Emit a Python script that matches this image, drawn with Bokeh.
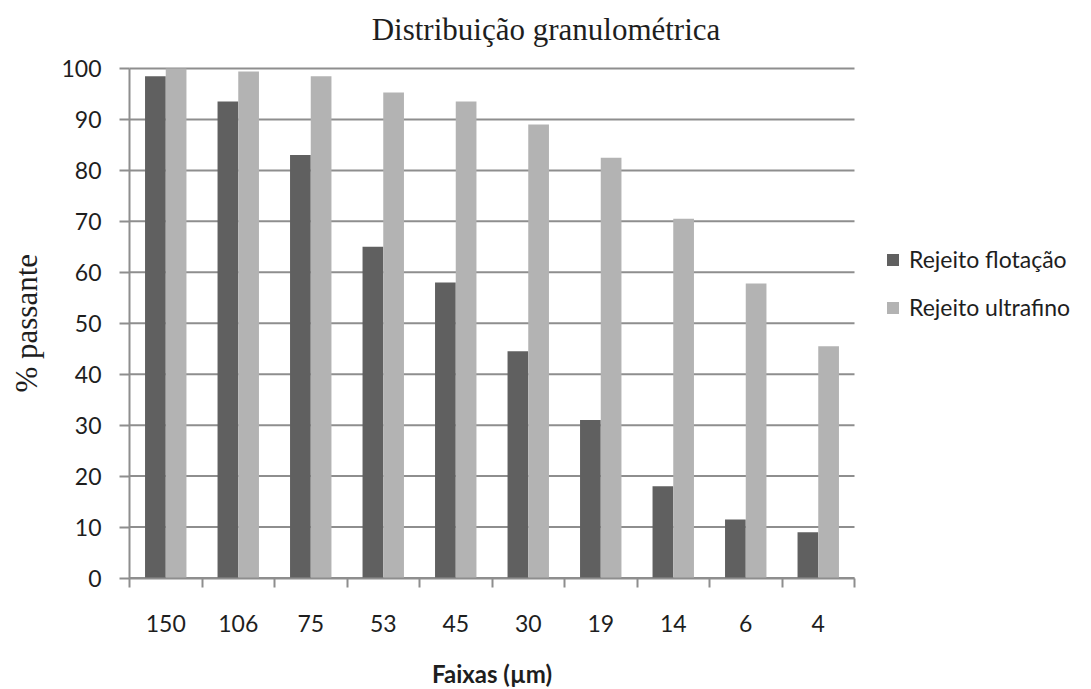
import math
from bokeh.plotting import figure
from bokeh.models import (ColumnDataSource, Range1d, FixedTicker, Legend, LegendItem,
                          Label)
from bokeh.embed import file_html
from bokeh.resources import INLINE

# Particle size classes (µm) and cumulative % passing for each tailing
faixas = ["150", "106", "75", "53", "45", "30", "19", "14", "6", "4"]
rejeito_flotacao = [98.5, 93.5, 83.0, 65.0, 58.0, 44.5, 31.0, 18.0, 11.5, 9.0]
rejeito_ultrafino = [100.0, 99.4, 98.5, 95.3, 93.5, 89.0, 82.5, 70.5, 57.8, 45.5]
y_ticks = list(range(0, 101, 10))

DARK = "#606060"
LIGHT = "#b3b3b3"
GRID = "#8e8e8e"
TEXT = "#1e1e1e"

# canvas geometry (pixels): the plotting area spans the whole canvas,
# the category block sits at AX_X..AX_X+n*CAT_PX and the 0..100 scale at AX_Y..TOP_Y
W, H = 1091, 689
AX_X, AX_Y, TOP_Y = 129, 577.5, 68
CAT_PX = 72.5

n = len(faixas)
centers = [i + 0.5 for i in range(n)]
bar_w = 1 / 3.5          # Excel-style 150% gap width
px_per_unit = (AX_Y - TOP_Y) / 100


def dx(px):
    return (px - AX_X) / CAT_PX


def dy(py):
    return (AX_Y - py) / px_per_unit


src = ColumnDataSource(dict(
    x1=[c - bar_w / 2 for c in centers],
    x2=[c + bar_w / 2 for c in centers],
    flot=rejeito_flotacao,
    ultra=rejeito_ultrafino,
))

p = figure(width=W, height=H, output_backend="svg", toolbar_location=None,
           title=None,
           x_range=Range1d(dx(0), dx(W)), y_range=Range1d(dy(H), dy(0)),
           min_border=0)
p.outline_line_color = None
p.background_fill_color = "white"
p.border_fill_color = "white"
p.xgrid.grid_line_color = None
p.ygrid.grid_line_color = None

# horizontal grid lines spanning the category block only
p.segment(x0=[0] * len(y_ticks), x1=[n] * len(y_ticks), y0=y_ticks, y1=y_ticks,
          line_color=GRID, line_width=2)

r1 = p.vbar(x="x1", top="flot", width=bar_w, source=src,
            fill_color=DARK, line_color=None)
r2 = p.vbar(x="x2", top="ultra", width=bar_w, source=src,
            fill_color=LIGHT, line_color=None)

# x axis: labels at category centres, tick marks on category boundaries
xa = p.xaxis[0]
xa.fixed_location = 0
xa.bounds = (0, n)
xa.ticker = FixedTicker(ticks=centers, minor_ticks=list(range(n + 1)))
xa.major_label_overrides = {c: f for c, f in zip(centers, faixas)}
xa.major_tick_out = 0
xa.major_tick_in = 0
xa.minor_tick_out = 9
xa.minor_tick_in = 0
xa.minor_tick_line_color = GRID
xa.minor_tick_line_width = 2
xa.axis_line_color = GRID
xa.axis_line_width = 2
xa.major_label_standoff = 28
xa.major_label_text_font = "Lato"
xa.major_label_text_font_size = "23px"
xa.major_label_text_color = TEXT

ya = p.yaxis[0]
ya.fixed_location = 0
ya.bounds = (0, 100)
ya.ticker = FixedTicker(ticks=y_ticks)
ya.major_tick_out = 10
ya.major_tick_in = 0
ya.minor_tick_out = 0
ya.minor_tick_in = 0
ya.major_tick_line_color = GRID
ya.major_tick_line_width = 2
ya.axis_line_color = GRID
ya.axis_line_width = 2
ya.major_label_standoff = 18
ya.major_label_text_font = "Lato"
ya.major_label_text_font_size = "23px"
ya.major_label_text_color = TEXT

# titles
p.add_layout(Label(x=dx(W / 2), y=dy(29), text="Distribuição granulométrica",
                   text_align="center", text_baseline="middle",
                   text_font="Liberation Serif", text_font_size="31px",
                   text_color=TEXT))
p.add_layout(Label(x=dx(AX_X + n * CAT_PX / 2), y=dy(673), text="Faixas (µm)",
                   text_align="center", text_baseline="middle",
                   text_font="Lato", text_font_style="bold", text_font_size="24px",
                   text_color=TEXT))
p.add_layout(Label(x=dx(26), y=50, text="% passante", angle=math.pi / 2,
                   text_align="center", text_baseline="middle",
                   text_font="Liberation Serif", text_font_size="31px",
                   text_color=TEXT))

legend = Legend(items=[LegendItem(label="Rejeito flotação", renderers=[r1]),
                       LegendItem(label="Rejeito ultrafino", renderers=[r2])],
                location=(885, 368), orientation="vertical")
legend.border_line_color = None
legend.background_fill_alpha = 0
legend.padding = 0
legend.margin = 0
legend.spacing = 20
legend.glyph_width = 15
legend.glyph_height = 15
legend.label_standoff = 9
legend.label_text_font = "Lato"
legend.label_text_font_size = "23px"
legend.label_text_color = TEXT
p.add_layout(legend)

open("out.html", "w").write(file_html(p, INLINE))
